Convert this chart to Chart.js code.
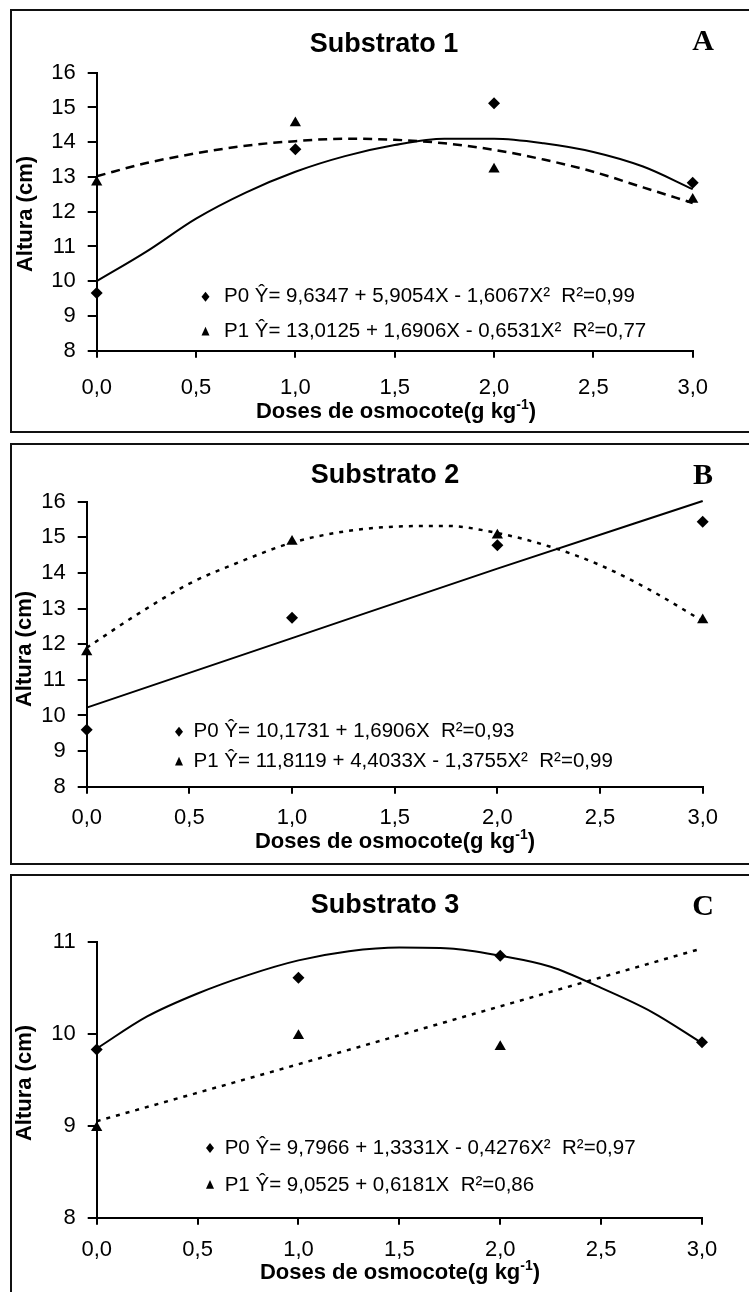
<!DOCTYPE html>
<html>
<head>
<meta charset="utf-8">
<script src="https://cdn.jsdelivr.net/npm/chart.js@4.4.1/dist/chart.umd.min.js"></script>
<style>
  body{ margin:0; background:#fff; width:749px; height:1292px; overflow:hidden; position:relative; }
  canvas{ position:absolute; left:0; }
  .frame{ position:absolute; left:10px; width:780px; border:2px solid #111; box-sizing:border-box; pointer-events:none; }
</style>
</head>
<body>
<div class="frame" style="top:9px;height:424px"></div>
<div class="frame" style="top:443px;height:422px"></div>
<div class="frame" style="top:874px;height:440px"></div>
<canvas id="chartA" width="749" height="438" style="top:0"></canvas>
<canvas id="chartB" width="749" height="430" style="top:438px"></canvas>
<canvas id="chartC" width="749" height="424" style="top:868px"></canvas>
<script>
const SANS = "'Liberation Sans', Arial, sans-serif";
const SERIF = "'Liberation Serif', 'Times New Roman', serif";

// doses where the measurements were taken
const DOSES = [0, 1, 2, 3];
const CURVE_X = [0, 0.25, 0.5, 0.75, 1, 1.25, 1.5, 1.75, 2, 2.25, 2.5, 2.75, 3];
const LINE_X = [0, 1, 2, 3];
const X_TICKS = [0, 0.5, 1, 1.5, 2, 2.5, 3];

// Substrato 1
const A_P0 = [9.66, 13.8, 15.12, 12.83];
const A_P1 = [12.85, 14.55, 13.22, 12.35];
const A_P0_FIT = [10.0, 10.85, 11.8, 12.55, 13.15, 13.6, 13.92, 14.1, 14.1, 13.97, 13.72, 13.3, 12.65];
const A_P1_FIT = [13.02, 13.4, 13.68, 13.9, 14.03, 14.1, 14.07, 13.97, 13.78, 13.5, 13.15, 12.7, 12.25];

// Substrato 2
const B_P0 = [9.6, 12.74, 14.78, 15.44];
const B_P1 = [11.78, 14.88, 15.06, 12.68];
const B_P0_FIT = [10.22, 12.17, 14.12, 16.02];
const B_P1_FIT = [11.9, 12.85, 13.7, 14.32, 14.85, 15.16, 15.3, 15.32, 15.12, 14.75, 14.22, 13.5, 12.65];

// Substrato 3
const C_P0 = [9.83, 10.61, 10.85, 9.91];
const C_P1 = [8.98, 9.98, 9.86, null];
const C_P0_FIT = [9.84, 10.19, 10.44, 10.64, 10.8, 10.9, 10.94, 10.93, 10.85, 10.73, 10.5, 10.24, 9.9];
const C_P1_FIT = [9.05, 9.67, 10.3, 10.93];

const pts = (xs, ys) => xs.map((x, i) => ({ x, y: ys[i] })).filter(p => p.y !== null);

function marker(ctx, kind, x, y, r){
  ctx.beginPath();
  if (kind === "diamond"){
    ctx.moveTo(x, y - r); ctx.lineTo(x + r * 0.8, y); ctx.lineTo(x, y + r); ctx.lineTo(x - r * 0.8, y);
  } else {
    ctx.moveTo(x, y - r); ctx.lineTo(x + r * 0.8, y + r * 0.75); ctx.lineTo(x - r * 0.8, y + r * 0.75);
  }
  ctx.closePath();
  ctx.fill();
}

// titles, panel letter, axis titles and the regression equations
const panelText = {
  id: "panelText",
  afterDraw(chart, args, o){
    const ctx = chart.ctx;
    ctx.save();
    ctx.fillStyle = "#000";
    ctx.textBaseline = "middle";

    ctx.textAlign = "center";
    ctx.font = "bold 27px " + SANS;
    ctx.fillText(o.title, o.titleX, o.titleY);
    ctx.font = "bold 30px " + SERIF;
    ctx.fillText(o.letter, 703, o.letterY);

    // x axis title with the superscript
    ctx.font = "bold 22px " + SANS;
    const a = "Doses de osmocote(g kg", sup = "-1", b = ")";
    const wa = ctx.measureText(a).width, wb = ctx.measureText(b).width;
    ctx.font = "bold 14px " + SANS;
    const ws = ctx.measureText(sup).width;
    let x = o.xTitleX - (wa + ws + wb) / 2;
    ctx.textAlign = "left";
    ctx.font = "bold 22px " + SANS;
    ctx.fillText(a, x, o.xTitleY);
    ctx.font = "bold 14px " + SANS;
    ctx.fillText(sup, x + wa, o.xTitleY - 7);
    ctx.font = "bold 22px " + SANS;
    ctx.fillText(b, x + wa + ws, o.xTitleY);

    // y axis title
    ctx.save();
    ctx.translate(o.yTitleX, o.yTitleY);
    ctx.rotate(-Math.PI / 2);
    ctx.textAlign = "center";
    ctx.fillText("Altura (cm)", 0, 0);
    ctx.restore();

    // equations
    ctx.font = "20.5px " + SANS;
    ctx.textAlign = "left";
    o.equations.forEach((eq) => {
      marker(ctx, eq.kind, o.eqMarkerX, eq.y, 5);
      ctx.fillText(eq.text, o.eqTextX, eq.y);
    });
    ctx.restore();
  }
};

function fitLine(data, dash, width){
  return {
    data, showLine: true, pointRadius: 0, borderColor: "#000", borderWidth: width,
    borderDash: dash, tension: 0.4, cubicInterpolationMode: "monotone", clip: false, order: 2
  };
}
function markers(data, style){
  return {
    data, showLine: false, pointStyle: style, pointRadius: style === "rectRot" ? 6 : 6.5,
    backgroundColor: "#000", borderColor: "#000", borderWidth: 0, clip: false, order: 1
  };
}

function makePanel(id, p){
  return new Chart(document.getElementById(id), {
    type: "scatter",
    data: { datasets: p.datasets },
    options: {
      responsive: false,
      animation: false,
      events: [],
      layout: { padding: { left: 0, top: p.top, right: p.right, bottom: 0 } },
      plugins: {
        legend: { display: false },
        tooltip: { enabled: false },
        panelText: p.text
      },
      scales: {
        x: {
          type: "linear", min: 0, max: 3,
          afterBuildTicks: (s) => { s.ticks = X_TICKS.map(v => ({ value: v })); },
          afterFit: (s) => { s.height = p.xHeight; },
          ticks: {
            color: "#000", font: { family: SANS, size: 22 }, padding: p.xPad,
            maxRotation: 0, autoSkip: false,
            callback: (v) => v.toFixed(1).replace(".", ",")
          },
          grid: { display: true, drawOnChartArea: false, drawTicks: true, tickLength: 7, color: "#000", lineWidth: 2 },
          border: { display: true, color: "#000", width: 2 }
        },
        y: {
          min: 8, max: p.yMax,
          afterFit: (s) => { s.width = p.yWidth; },
          ticks: { stepSize: 1, color: "#000", font: { family: SANS, size: 22 }, padding: 12 },
          grid: { display: true, drawOnChartArea: false, drawTicks: true, tickLength: 9, color: "#000", lineWidth: 2 },
          border: { display: true, color: "#000", width: 2 }
        }
      }
    },
    plugins: [panelText]
  });
}

// Substrato 1
makePanel("chartA", {
  top: 72.7, right: 56.3, yWidth: 96.7, xHeight: 87.3, xPad: 17, yMax: 16,
  datasets: [
    markers(pts(DOSES, A_P0), "rectRot"),
    markers(pts(DOSES, A_P1), "triangle"),
    fitLine(pts(CURVE_X, A_P0_FIT), [], 2),
    fitLine(pts(CURVE_X, A_P1_FIT), [9, 6], 2.5)
  ],
  text: {
    title: "Substrato 1", titleX: 384, titleY: 45, letter: "A", letterY: 42,
    xTitleX: 396, xTitleY: 412, yTitleX: 26, yTitleY: 214,
    eqMarkerX: 205.5, eqTextX: 224,
    equations: [
      { kind: "diamond", y: 296.7, text: "P0 Ŷ= 9,6347 + 5,9054X - 1,6067X²  R²=0,99" },
      { kind: "triangle", y: 331.7, text: "P1 Ŷ= 13,0125 + 1,6906X - 0,6531X²  R²=0,77" }
    ]
  }
});

// Substrato 2
makePanel("chartB", {
  top: 63.7, right: 46.3, yWidth: 86.7, xHeight: 81.3, xPad: 11, yMax: 16,
  datasets: [
    markers(pts(DOSES, B_P0), "rectRot"),
    markers(pts(DOSES, B_P1), "triangle"),
    fitLine(pts(LINE_X, B_P0_FIT), [], 2),
    fitLine(pts(CURVE_X, B_P1_FIT), [4, 6], 2.5)
  ],
  text: {
    title: "Substrato 2", titleX: 385, titleY: 38, letter: "B", letterY: 38,
    xTitleX: 395, xTitleY: 403.7, yTitleX: 25, yTitleY: 211,
    eqMarkerX: 179, eqTextX: 193.6,
    equations: [
      { kind: "diamond", y: 293.7, text: "P0 Ŷ= 10,1731 + 1,6906X  R²=0,93" },
      { kind: "triangle", y: 323.7, text: "P1 Ŷ= 11,8119 + 4,4033X - 1,3755X²  R²=0,99" }
    ]
  }
});

// Substrato 3
makePanel("chartC", {
  top: 74, right: 47, yWidth: 96.7, xHeight: 74.3, xPad: 12, yMax: 11,
  datasets: [
    markers(pts(DOSES, C_P0), "rectRot"),
    markers(pts(DOSES, C_P1), "triangle"),
    fitLine(pts(CURVE_X, C_P0_FIT), [], 2),
    fitLine(pts(LINE_X, C_P1_FIT), [4, 6], 2.5)
  ],
  text: {
    title: "Substrato 3", titleX: 385, titleY: 38, letter: "C", letterY: 39,
    xTitleX: 400, xTitleY: 405, yTitleX: 25, yTitleY: 215,
    eqMarkerX: 210, eqTextX: 224.7,
    equations: [
      { kind: "diamond", y: 280, text: "P0 Ŷ= 9,7966 + 1,3331X - 0,4276X²  R²=0,97" },
      { kind: "triangle", y: 317, text: "P1 Ŷ= 9,0525 + 0,6181X  R²=0,86" }
    ]
  }
});
</script>
</body>
</html>
